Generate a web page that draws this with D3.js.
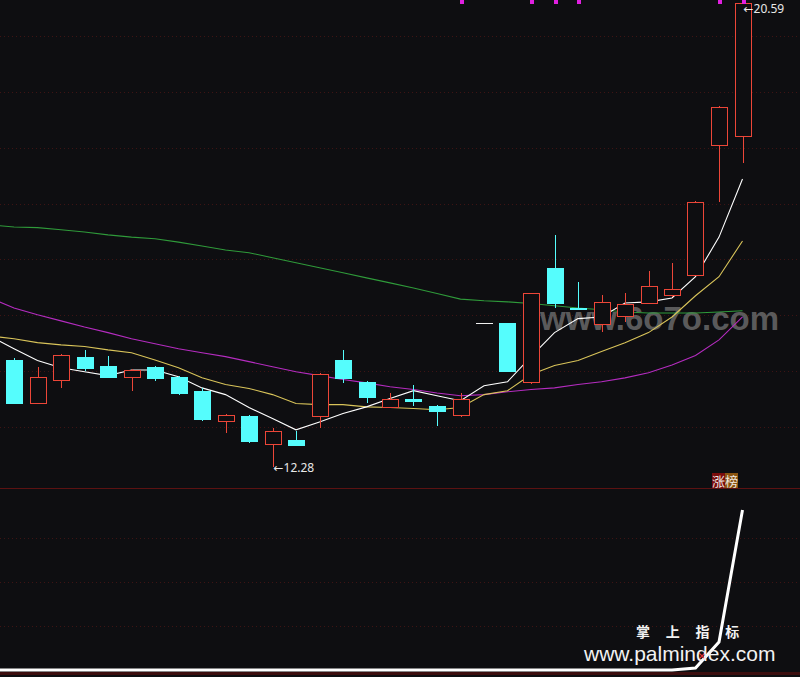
<!DOCTYPE html>
<html><head><meta charset="utf-8">
<script src="https://cdn.jsdelivr.net/npm/d3@7"></script>
<style>html,body{margin:0;padding:0;background:#0e0e11;overflow:hidden}</style>
</head><body>
<svg id="c" width="800" height="677"></svg>
<script>
// ---- data ----
const candleIdx = d3.range(0, 32);
const openP  = [14.20,13.43,13.85,14.26,14.10,13.90,14.08,13.90,13.65,13.11,13.20,12.70,12.77,13.20,14.20,13.81,13.36,13.50,13.38,13.22,14.87,14.87,13.81,15.85,15.13,14.85,14.99,15.22,15.37,15.72,18.05,18.21];
const highP  = [14.24,14.08,14.30,14.37,14.28,14.03,14.09,13.91,13.70,13.24,13.22,12.99,12.92,13.96,14.38,13.83,13.60,13.76,13.39,13.60,14.87,14.87,15.40,16.44,15.60,15.37,15.40,15.80,15.94,17.04,18.74,20.59];
const lowP   = [13.42,13.42,13.69,14.01,13.89,13.65,13.83,13.58,13.11,12.90,12.72,12.28,12.67,12.99,13.79,13.43,13.34,13.38,13.01,13.18,14.87,14.01,13.77,15.13,15.10,14.70,14.88,15.21,15.33,15.71,17.03,17.73];
const closeP = [13.43,13.90,14.29,14.06,13.90,14.02,13.88,13.61,13.15,13.22,12.75,12.92,12.68,13.95,13.88,13.54,13.51,13.47,13.29,13.51,14.87,14.01,15.40,15.22,15.12,15.24,15.21,15.53,15.47,17.03,18.73,20.59];
// moving averages, first value is one bar before the first visible candle
const maIdx = d3.range(-1, 32);
const ma5  = [14.62,14.40,14.19,14.06,13.99,13.92,14.02,14.02,13.90,13.70,13.58,13.35,13.15,12.95,13.09,13.24,13.36,13.51,13.65,13.56,13.47,13.74,13.81,14.26,14.69,14.94,14.97,15.22,15.24,15.31,15.69,16.40,17.44];
const ma10 = [14.63,14.58,14.51,14.47,14.44,14.38,14.33,14.20,14.06,13.88,13.76,13.69,13.58,13.42,13.40,13.40,13.36,13.35,13.33,13.31,13.35,13.58,13.65,13.94,14.10,14.19,14.35,14.51,14.69,14.97,15.35,15.69,16.33];
const ma20 = [15.31,15.13,15.01,14.90,14.79,14.69,14.58,14.49,14.40,14.33,14.26,14.17,14.08,13.99,13.92,13.85,13.79,13.72,13.67,13.61,13.56,13.58,13.63,13.67,13.70,13.76,13.81,13.88,13.97,14.11,14.28,14.56,14.97];
const ma60 = [16.62,16.58,16.57,16.53,16.49,16.44,16.40,16.37,16.31,16.24,16.17,16.12,16.03,15.94,15.85,15.76,15.67,15.58,15.49,15.39,15.29,15.26,15.24,15.21,15.17,15.13,15.10,15.06,15.04,15.04,15.04,15.06,15.08];
const priceGrid = [13,14,15,16,17,18,19,20];
const signalBars = [19,22,23,24,30,31];
// lower indicator panel
const indValues = [0,0,0,0,0,0,0,0,0,0,0,0,0,0,0,0,0,0,0,0,0,0,0,0,0,0,0,0,0,0,1.1,15.9,90.9];
const indGrid = [25,50,75];
const maxLabel = "20.59", minLabel = "12.28";

// ---- drawing ----
const svg = d3.select("#c");
const W = 800, H = 677, BG = "#0e0e11";
svg.append("rect").attr("width",W).attr("height",H).attr("fill",BG);

const x = d3.scaleLinear().domain([0,31]).range([14,742.5]);
const y = d3.scaleLinear().domain([13,20]).range([427,36]);
const yi = d3.scaleLinear().domain([0,100]).range([670,494]);

svg.append("clipPath").attr("id","top").append("rect").attr("x",0).attr("y",0).attr("width",W).attr("height",486);

// grid lines
const gridColor = "#3e1414";
svg.append("g").selectAll("line").data(priceGrid).join("line")
  .attr("x1",0).attr("x2",W)
  .attr("y1",d=>Math.round(y(d))+0.5).attr("y2",d=>Math.round(y(d))+0.5)
  .attr("stroke",gridColor).attr("stroke-dasharray","1,3");
svg.append("g").selectAll("line").data(indGrid).join("line")
  .attr("x1",0).attr("x2",W)
  .attr("y1",d=>Math.round(yi(d))+0.5).attr("y2",d=>Math.round(yi(d))+0.5)
  .attr("stroke",gridColor).attr("stroke-dasharray","1,3");
// panel separators
svg.append("rect").attr("x",0).attr("y",488).attr("width",W).attr("height",1).attr("fill","#5c1212");
svg.append("rect").attr("x",0).attr("y",672).attr("width",W).attr("height",3).attr("fill","#3c0e0e");

// watermark 6o7o
svg.append("text").attr("x",540).attr("y",330).text("www.6o7o.com")
  .attr("font-family","Liberation Sans, Arial, sans-serif").attr("font-size",33).attr("font-weight","bold")
  .attr("fill","#707070").attr("fill-opacity",0.8);

// moving averages
const g = svg.append("g").attr("clip-path","url(#top)");
const mkLine = arr => d3.line().x((d,i)=>x(maIdx[i])).y(d=>y(d))(arr);
[[ma60,"#2f9a3a"],[ma20,"#b52cc0"],[ma10,"#d9c45a"],[ma5,"#ffffff"]].forEach(([arr,c])=>{
  g.append("path").attr("d",mkLine(arr)).attr("fill","none").attr("stroke",c).attr("stroke-width",1.1);
});

// candles (drawn with filled rects for crisp colours)
const RED = "#ec4638", CYAN = "#55fdfd", bw = 17;
const cg = svg.append("g").attr("shape-rendering","crispEdges");
candleIdx.forEach(i=>{
  const o=openP[i], c=closeP[i], h=highP[i], l=lowP[i];
  const cx = Math.round(x(i));
  const left = cx - 8;
  const yo = Math.round(y(o)), yc = Math.round(y(c)), yh = Math.round(y(h)), yl = Math.round(y(l));
  if (o===c && h===l) {
    cg.append("rect").attr("x",left).attr("y",yo).attr("width",bw).attr("height",1).attr("fill","#f0f0f0");
    return;
  }
  const up = c > o;
  const col = up ? RED : CYAN;
  const yt = Math.min(yo,yc), yb = Math.max(yo,yc);
  cg.append("rect").attr("x",cx).attr("y",yh).attr("width",1).attr("height",Math.max(0,yt-yh)).attr("fill",col);
  cg.append("rect").attr("x",cx).attr("y",yb).attr("width",1).attr("height",Math.max(0,yl-yb)).attr("fill",col);
  const hgt = Math.max(2,yb-yt+1);
  cg.append("rect").attr("x",left).attr("y",yt).attr("width",bw).attr("height",hgt).attr("fill",col);
  if (up && hgt > 2) {
    cg.append("rect").attr("x",left+1).attr("y",yt+1).attr("width",bw-2).attr("height",hgt-2).attr("fill",BG);
  }
});

// signal markers at the top
svg.append("g").selectAll("rect").data(signalBars).join("rect")
  .attr("x",d=>Math.round(x(d))-1).attr("y",0).attr("width",4).attr("height",4).attr("fill","#e020e0");

// max / min labels
const lblFont = "Noto Sans, DejaVu Sans, sans-serif";
svg.append("text").attr("x",x(31)+1).attr("y",y(20.59)+10).text("\u2190"+maxLabel)
  .attr("font-family",lblFont).attr("font-size",12).attr("fill","#e8e8e8");
svg.append("text").attr("x",x(11)+1).attr("y",y(12.28)+5).text("\u2190"+minLabel)
  .attr("font-family",lblFont).attr("font-size",12).attr("fill","#e8e8e8");

// 涨榜 tag
svg.append("rect").attr("x",712).attr("y",473).attr("width",13).attr("height",15).attr("fill","#7a0c0c");
svg.append("rect").attr("x",725).attr("y",473).attr("width",13).attr("height",15).attr("fill","#8a5410");
svg.append("text").attr("x",712).attr("y",486).text("涨榜")
  .attr("font-family","Noto Sans CJK SC, sans-serif").attr("font-size",13).attr("fill","#f0e8e0");

// lower indicator line
svg.append("path").attr("d",d3.line().x((d,i)=>x(maIdx[i])).y(d=>yi(d))(indValues))
  .attr("fill","none").attr("stroke","#ffffff").attr("stroke-width",3);
// small red cross mark
svg.append("path").attr("d","M698,652L706,660M706,652L698,660").attr("stroke","#e03030").attr("stroke-width",1.2);

// palmindex watermark
svg.append("text").attr("x",636).attr("y",637).text("掌 上 指 标")
  .attr("font-family","Noto Sans CJK SC, sans-serif").attr("font-size",14).attr("font-weight","bold")
  .attr("fill","#f2f2f2").attr("letter-spacing","6.3");
svg.append("text").attr("x",584).attr("y",661).text("www.palmindex.com")
  .attr("font-family","Liberation Sans, Arial, sans-serif").attr("font-size",21)
  .attr("fill","#f2f2f2");
</script>
</body></html>
